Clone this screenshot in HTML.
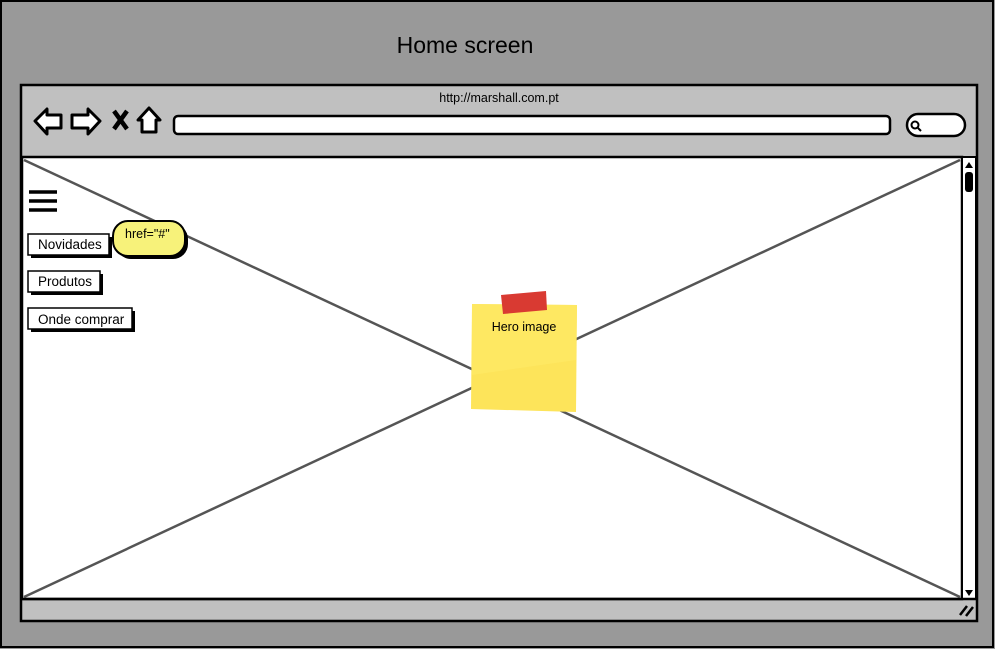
<!DOCTYPE html>
<html><head><meta charset="utf-8"><style>
html,body{margin:0;padding:0;background:#999;}
svg{display:block}
text{font-family:"Liberation Sans",sans-serif;}
</style></head><body>
<svg width="995" height="649" viewBox="0 0 995 649" xmlns="http://www.w3.org/2000/svg">
<rect x="1" y="1" width="992" height="646" fill="#999" stroke="#000" stroke-width="2"/>
<text x="465" y="53" font-size="23" text-anchor="middle" fill="#000">Home screen</text>
<rect x="21" y="85" width="956" height="536" fill="#c0c0c0" stroke="#000" stroke-width="2.5"/>
<text x="499" y="102" font-size="12.5" text-anchor="middle">http://marshall.com.pt</text>
<path d="M35 121 L47 109 L47 115 L61 115 L61 128 L47 128 L47 134 Z" fill="#fff" stroke="#000" stroke-width="3" stroke-linejoin="round"/>
<path d="M100 121 L88 109 L88 115 L72 115 L72 128 L88 128 L88 134 Z" fill="#fff" stroke="#000" stroke-width="3" stroke-linejoin="round"/>
<path d="M114 111 L127 129 M127 111 L114 129" stroke="#000" stroke-width="4.5"/>
<path d="M149 108 L160 120 L156 120 L156 132 L142 132 L142 120 L138 120 Z" fill="#fff" stroke="#000" stroke-width="3" stroke-linejoin="round"/>
<rect x="174" y="116" width="716" height="18" rx="4" fill="#fff" stroke="#000" stroke-width="2.5"/>
<rect x="907" y="114" width="58" height="22" rx="11" fill="#fff" stroke="#000" stroke-width="2.5"/>
<circle cx="915" cy="125" r="3.5" fill="none" stroke="#000" stroke-width="2"/>
<path d="M918 128 L921 131" stroke="#000" stroke-width="2"/>
<rect x="22" y="157" width="940" height="442" fill="#fff" stroke="#000" stroke-width="2.5"/>
<line x1="24" y1="160" x2="960" y2="597" stroke="#555" stroke-width="2.5"/>
<line x1="960" y1="160" x2="24" y2="597" stroke="#555" stroke-width="2.5"/>
<rect x="962" y="157" width="14" height="442" fill="#fff" stroke="#000" stroke-width="2"/>
<path d="M965 168 L969 162 L973 168 Z" fill="#000"/>
<rect x="965" y="172" width="8" height="20" rx="3" fill="#000"/>
<path d="M965 590 L969 596 L973 590 Z" fill="#000"/>
<line x1="22" y1="599" x2="976" y2="599" stroke="#000" stroke-width="2.5"/>
<path d="M960 615 L967 606 M966 616 L973 607" stroke="#000" stroke-width="2.5"/>
<path d="M29 192 H57 M29 201 H57 M29 210 H57" stroke="#000" stroke-width="3.5"/>
<rect x="31" y="237" width="81" height="21" fill="#000"/>
<rect x="28" y="234" width="81" height="21" fill="#fff" stroke="#000" stroke-width="1.5"/>
<text x="38" y="249" font-size="13.5">Novidades</text>
<rect x="31" y="274" width="72" height="21" fill="#000"/>
<rect x="28" y="271" width="72" height="21" fill="#fff" stroke="#000" stroke-width="1.5"/>
<text x="38" y="286" font-size="13.5">Produtos</text>
<rect x="31" y="311" width="104" height="21" fill="#000"/>
<rect x="28" y="308" width="104" height="21" fill="#fff" stroke="#000" stroke-width="1.5"/>
<text x="38" y="324" font-size="13.5">Onde comprar</text>
<rect x="116" y="224" width="72" height="35" rx="15" fill="#000"/>
<rect x="113" y="221" width="72" height="35" rx="15" fill="#f7f27a" stroke="#000" stroke-width="2"/>
<text x="125" y="238" font-size="12.5">href="#"</text>
<path d="M472 304 L577 305 L576 412 L471 409 Z" fill="#fde45a"/>
<path d="M472 304 L577 305 L576 360 L472 375 Z" fill="#fee864" opacity="0.8"/>
<path d="M501 295 L546 291 L547 310 L503 314 Z" fill="#d93a32"/>
<text x="524" y="331" font-size="12.5" text-anchor="middle">Hero image</text>
</svg>
</body></html>
